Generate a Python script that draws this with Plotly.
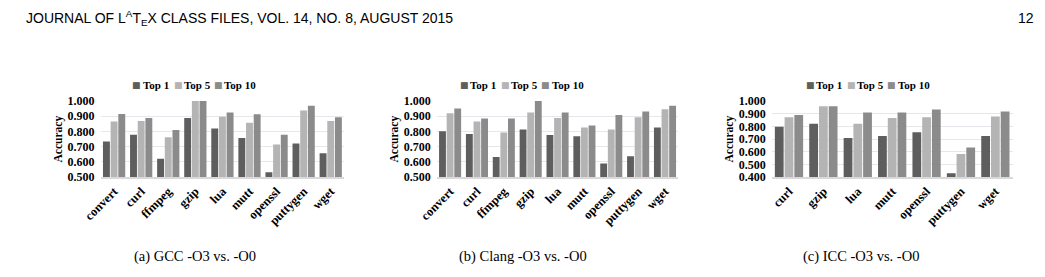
import plotly.graph_objects as go

W, H = 1045, 277

series_names = ["Top 1", "Top 5", "Top 10"]
series_colors = ["#5e5e5e", "#b4b4b4", "#8b8b8b"]

gcc_categories = ["convert", "curl", "ffmpeg", "gzip", "lua", "mutt", "openssl", "puttygen", "wget"]
gcc_top1 = [0.734, 0.778, 0.622, 0.888, 0.820, 0.757, 0.533, 0.722, 0.658]
gcc_top5 = [0.865, 0.869, 0.763, 1.000, 0.896, 0.857, 0.714, 0.938, 0.869]
gcc_top10 = [0.915, 0.888, 0.809, 1.000, 0.925, 0.913, 0.778, 0.969, 0.894]

clang_categories = ["convert", "curl", "ffmpeg", "gzip", "lua", "mutt", "openssl", "puttygen", "wget"]
clang_top1 = [0.802, 0.783, 0.633, 0.813, 0.777, 0.769, 0.590, 0.637, 0.827]
clang_top5 = [0.919, 0.865, 0.794, 0.925, 0.888, 0.827, 0.813, 0.894, 0.946]
clang_top10 = [0.950, 0.885, 0.885, 1.000, 0.925, 0.840, 0.908, 0.931, 0.969]

icc_categories = ["curl", "gzip", "lua", "mutt", "openssl", "puttygen", "wget"]
icc_top1 = [0.798, 0.821, 0.709, 0.724, 0.754, 0.432, 0.724]
icc_top5 = [0.873, 0.958, 0.821, 0.866, 0.873, 0.582, 0.878]
icc_top10 = [0.890, 0.958, 0.910, 0.910, 0.933, 0.634, 0.918]

captions = ["(a) GCC -O3 vs. -O0", "(b) Clang -O3 vs. -O0", "(c) ICC -O3 vs. -O0"]
y_title = "Accuracy"
header_left = "JOURNAL OF L<sup>A</sup>T<sub>E</sub>X CLASS FILES, VOL. 14, NO. 8, AUGUST 2015"
header_right = "12"

panels = [
    (gcc_categories, [gcc_top1, gcc_top5, gcc_top10], [0.5, 1.0], (84, 332)),
    (clang_categories, [clang_top1, clang_top5, clang_top10], [0.5, 1.0], (426, 672)),
    (icc_categories, [icc_top1, icc_top5, icc_top10], [0.4, 1.0], (767, 1012)),
]
legend_starts = [121, 454, 806]
legend_steps = [0, 42, 83]
caption_centers = [180, 514, 858]

SERIF = "Liberation Serif, Times New Roman, serif"

fig = go.Figure()
y_top, y_bot = 99, 179.3
ydom = [1 - y_bot / H, 1 - y_top / H]
ly = 1 - 82 / H

for i, (cats, vals, yr, (x0, x1)) in enumerate(panels):
    xa = "x" if i == 0 else f"x{i+1}"
    ya = "y" if i == 0 else f"y{i+1}"
    for name, color, v in zip(series_names, series_colors, vals):
        fig.add_trace(go.Bar(x=cats, y=v, name=name, marker=dict(color=color, line=dict(width=0)),
                             xaxis=xa, yaxis=ya, showlegend=False))
    xkey = "xaxis" if i == 0 else f"xaxis{i+1}"
    ykey = "yaxis" if i == 0 else f"yaxis{i+1}"
    fig.layout[xkey] = dict(domain=[x0 / W, x1 / W], anchor=ya, tickangle=-45,
                            tickfont=dict(family=SERIF, size=12.5, color="#000", weight="bold"),
                            showline=True, linecolor="#d9d9d9", linewidth=2,
                            showgrid=False, ticks="", fixedrange=True)
    fig.layout[ykey] = dict(domain=ydom, anchor=xa, range=yr, dtick=0.1, tickformat=".3f",
                            tickfont=dict(family=SERIF, size=12, color="#000", weight="bold"),
                            showgrid=True, gridcolor="#e4e7ec", gridwidth=1,
                            zeroline=False, showline=False, ticks="",
                            ticklabelstandoff=5,
                            title=dict(text=y_title, standoff=2,
                                       font=dict(family=SERIF, size=11.5, color="#000", weight="bold")))
    for k, (name, color) in enumerate(zip(series_names, series_colors)):
        sx = legend_starts[i] + legend_steps[k]
        fig.add_annotation(text="■", x=sx / W, y=ly, xref="paper", yref="paper",
                           showarrow=False, xanchor="center", yanchor="middle",
                           font=dict(family="DejaVu Sans", size=9, color=color))
        fig.add_annotation(text=name, x=(sx + 4) / W, y=ly, xref="paper", yref="paper",
                           showarrow=False, xanchor="left", yanchor="middle",
                           font=dict(family=SERIF, size=11, color="#000", weight="bold"))
    fig.add_annotation(text=captions[i], x=caption_centers[i] / W, y=1 - 263 / H,
                       xref="paper", yref="paper", showarrow=False, xanchor="center", yanchor="middle",
                       font=dict(family=SERIF, size=14.5, color="#000"))

fig.add_annotation(text=header_left, x=6 / W, y=1 - 12 / H, xref="paper", yref="paper",
                   showarrow=False, xanchor="left", yanchor="middle",
                   font=dict(family="Liberation Sans, Arial, sans-serif", size=14, color="#000"))
fig.add_annotation(text=header_right, x=1036 / W, y=1 - 12 / H, xref="paper", yref="paper",
                   showarrow=False, xanchor="right", yanchor="middle",
                   font=dict(family="Liberation Sans, Arial, sans-serif", size=14, color="#000"))

fig.update_layout(width=W, height=H, margin=dict(l=0, r=0, t=0, b=0),
                  paper_bgcolor="white", plot_bgcolor="white",
                  barmode="group", bargap=0.15, bargroupgap=0.1, showlegend=False)

fig.write_html("out.html", config={"displayModeBar": False})
